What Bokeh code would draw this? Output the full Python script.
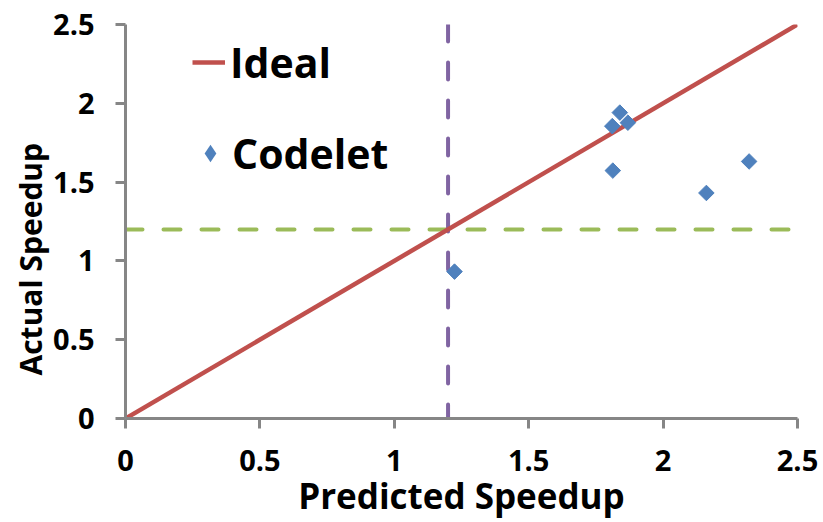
import math
from bokeh.plotting import figure
from bokeh.models import FixedTicker, Legend, LegendItem, Range1d, Title
from bokeh.embed import file_html
from bokeh.resources import INLINE

# ---- data ----
tick_values = [0, 0.5, 1, 1.5, 2, 2.5]
tick_labels = ["0", "0.5", "1", "1.5", "2", "2.5"]
ideal_x = [0, 2.5]
ideal_y = [0, 2.5]
codelet_predicted = [1.224, 1.811, 1.839, 1.869, 1.813, 2.161, 2.320]
codelet_actual = [0.932, 1.855, 1.941, 1.877, 1.573, 1.431, 1.631]
threshold = 1.2
x_title = "Predicted Speedup"
y_title = "Actual Speedup"

FONT = "Open Sans"
AXIS_GRAY = "#868686"
BLUE = "#4F81BD"

p = figure(width=823, height=522, output_backend="svg", toolbar_location=None,
           x_range=Range1d(0, 2.5), y_range=Range1d(0, 2.5),
           min_border_left=125, min_border_right=26,
           min_border_top=24, min_border_bottom=104)
p.outline_line_color = None
p.grid.visible = False
p.background_fill_color = "white"
p.border_fill_color = "white"

for ax in (p.xaxis[0], p.yaxis[0]):
    ax.ticker = FixedTicker(ticks=tick_values)
    ax.major_label_overrides = {v: l for v, l in zip(tick_values, tick_labels)}
    ax.axis_line_color = AXIS_GRAY
    ax.axis_line_width = 3
    ax.major_tick_line_color = AXIS_GRAY
    ax.major_tick_line_width = 3
    ax.major_tick_out = 10
    ax.major_tick_in = 0
    ax.minor_tick_out = 0
    ax.minor_tick_in = 0
    ax.major_label_text_font = FONT
    ax.major_label_text_font_style = "bold"
    ax.major_label_text_font_size = "29px"
    ax.major_label_text_color = "black"
p.xaxis[0].major_label_standoff = 21
p.yaxis[0].major_label_standoff = 21

p.xaxis[0].axis_label = x_title
p.xaxis[0].axis_label_standoff = -2
p.xaxis[0].axis_label_text_font = FONT
p.xaxis[0].axis_label_text_font_style = "bold"
p.xaxis[0].axis_label_text_font_size = "35px"
p.xaxis[0].axis_label_text_color = "black"

p.add_layout(Title(text=y_title, align="left", offset=43, standoff=0,
                   text_font=FONT, text_font_style="bold", text_font_size="30px",
                   text_color="black"), "left")

# threshold lines
p.line(x=[ideal_x[0], ideal_x[1]], y=[threshold, threshold], line_color="#9BBB59",
       line_width=4, line_dash="17 21", line_cap="round")
p.line(x=[threshold, threshold], y=[ideal_y[1], ideal_y[0]], line_color="#8064A2",
       line_width=4, line_dash="17 21", line_cap="round")

r_ideal = p.line(x=ideal_x, y=ideal_y, line_color="#C0504D", line_width=4.5)
p.scatter(x=codelet_predicted, y=codelet_actual, marker="square",
          angle=math.pi / 4, size=11, fill_color=BLUE, line_color=BLUE)
# legend key glyph: same points, zero size in the plot (legend sizes its own key)
r_cod_key = p.scatter(x=codelet_predicted, y=codelet_actual, marker="diamond",
                      size=0, fill_color=BLUE, line_color=None)

common = dict(orientation="vertical", glyph_height=60, label_height=60,
              spacing=0, padding=0, margin=0, border_line_color=None,
              background_fill_alpha=0, label_text_font=FONT,
              label_text_font_size="41px", label_text_font_style="bold",
              label_text_color="black")
p.add_layout(Legend(items=[LegendItem(label="Ideal", renderers=[r_ideal])],
                    location=(67, 326), glyph_width=33, label_standoff=5, **common))
p.add_layout(Legend(items=[LegendItem(label="Codelet", renderers=[r_cod_key])],
                    location=(63, 235), glyph_width=44, label_standoff=0, **common))

open("out.html", "w").write(file_html(p, INLINE))
